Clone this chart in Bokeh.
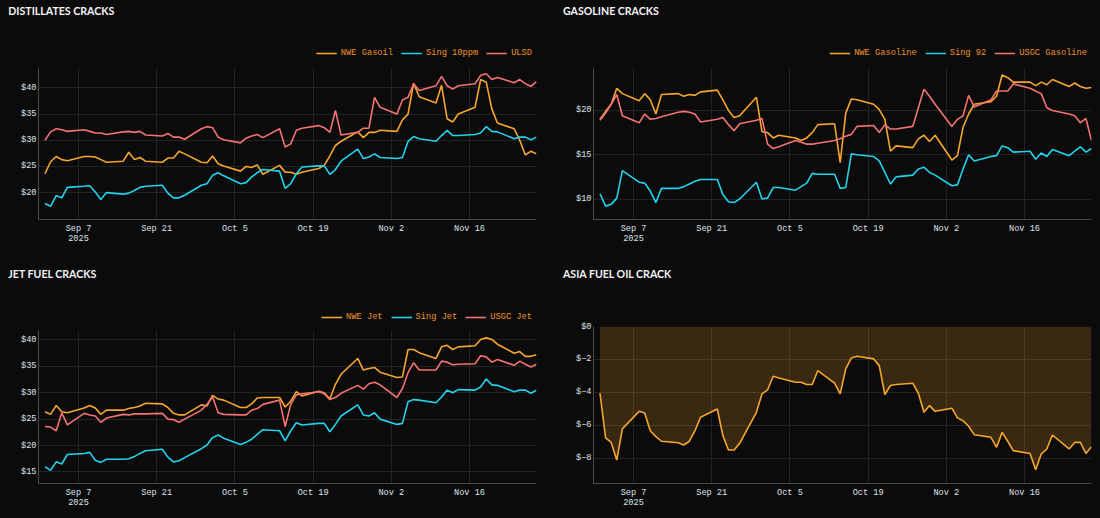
import pandas as pd
from bokeh.plotting import figure
from bokeh.models import Range1d, FixedTicker, Legend, LegendItem, Div
from bokeh.layouts import row, column
from bokeh.embed import file_html
from bokeh.resources import INLINE

# ---------------- data ----------------
dates = pd.bdate_range("2025-09-01", "2025-11-28")

x_tick_dates = ["2025-09-07", "2025-09-21", "2025-10-05", "2025-10-19", "2025-11-02", "2025-11-16"]
x_tick_labels = ["Sep 7\n2025", "Sep 21", "Oct 5", "Oct 19", "Nov 2", "Nov 16"]

nwe_gasoil = [23.6, 25.9, 26.9, 26.3, 26.1, 26.9, 26.9, 26.8, 26.3, 25.8,
              26.0, 27.7, 26.3, 26.7, 26.0, 25.8, 26.6, 26.6, 27.9, 27.4,
              25.8, 25.7, 27.0, 25.5, 25.1, 24.1, 25.0, 24.8, 25.3, 23.5,
              25.2, 23.9, 23.9, 23.5, 23.9, 24.6, 25.2, 27.0, 29.0, 29.8,
              31.6, 30.5, 31.5, 31.5, 31.9, 31.7, 33.9, 35.0, 40.9, 38.3,
              37.1, 40.5, 34.1, 33.5, 35.0, 36.3, 41.6, 41.1, 36.0, 33.3,
              32.2, 30.0, 27.2, 27.9, 27.4]
sing_10ppm = [17.9, 17.4, 19.4, 19.0, 21.0, 21.2, 21.3, 20.1, 18.7, 20.0,
              19.7, 19.9, 20.4, 21.0, 21.2, 21.4, 19.9, 19.0, 19.0, 19.5,
              21.4, 21.7, 23.3, 23.8, 23.2, 21.7, 21.9, 23.0, 23.8, 24.4,
              24.1, 20.8, 21.7, 23.6, 24.9, 25.1, 25.1, 23.5, 24.4, 26.0,
              28.3, 26.5, 26.8, 27.4, 26.7, 26.5, 26.7, 29.8, 30.7, 30.3,
              29.8, 30.9, 31.9, 30.9, 30.9, 31.1, 31.4, 32.6, 31.7, 31.6,
              30.3, 30.6, 30.6, 30.1, 30.6]
ulsd = [30.0, 31.6, 32.2, 32.0, 31.7, 32.0, 31.7, 31.4, 31.4, 31.1,
        31.6, 31.7, 31.5, 31.7, 31.0, 30.8, 31.3, 30.6, 30.6, 30.2,
        32.2, 32.6, 32.4, 30.6, 30.1, 29.5, 30.4, 30.8, 31.1, 30.5,
        32.2, 28.7, 29.3, 31.9, 32.3, 32.8, 32.4, 31.5, 35.7, 31.0,
        31.5, 32.3, 32.3, 38.2, 36.3, 35.0, 37.7, 38.2, 40.8, 39.5,
        40.4, 42.2, 40.4, 39.8, 40.4, 40.8, 42.4, 42.7, 41.6, 42.0,
        41.0, 41.6, 40.8, 40.3, 41.2]

nwe_gasoline = [19.0, 19.9, 20.7, 22.5, 21.9, 21.1, 21.9, 21.2, 19.6, 21.8,
                21.9, 21.6, 21.8, 21.7, 22.1, 22.3, 21.2, 20.0, 19.2, 19.4,
                21.5, 17.6, 17.5, 16.9, 17.2, 16.9, 16.6, 16.9, 17.5, 18.4,
                18.5, 14.1, 19.7, 21.3, 21.2, 20.7, 20.1, 19.0, 15.4, 16.0,
                15.8, 16.8, 17.2, 16.5, 17.2, 14.4, 14.9, 18.1, 19.6, 20.7,
                21.0, 21.6, 24.0, 23.7, 23.2, 23.2, 22.8, 23.2, 22.9, 23.5,
                22.7, 23.1, 22.7, 22.5, 22.6]
sing_92 = [10.6, 9.2, 9.4, 10.1, 13.2, 11.9, 11.8, 10.9, 9.6, 11.2,
           11.2, 11.4, 11.7, 12.0, 12.2, 12.2, 10.5, 9.7, 9.6, 10.0,
           11.9, 10.0, 10.1, 11.3, 11.3, 11.0, 11.4, 11.8, 12.9, 12.8,
           12.8, 11.2, 11.3, 15.1, 15.0, 14.8, 14.3, 13.0, 11.7, 12.5,
           12.7, 13.4, 13.6, 13.0, 12.7, 11.5, 11.6, 13.4, 15.0, 14.3,
           14.8, 14.9, 16.0, 15.8, 15.3, 15.4, 14.5, 15.2, 14.8, 15.6,
           14.9, 15.4, 15.9, 15.3, 15.7]
usgc_gasoline = [18.9, 19.7, 20.7, 21.8, 19.4, 18.6, 19.6, 19.0, 19.1, 19.3,
                 19.8, 19.9, 19.8, 19.6, 18.7, 19.0, 19.2, 18.4, 17.7, 18.5,
                 18.9, 19.1, 16.2, 15.7, 15.9, 16.6, 16.4, 16.2, 16.2, 16.3,
                 16.6, 16.8, 17.1, 17.3, 18.2, 18.3, 17.5, 18.4, 17.9, 17.9,
                 18.2, 20.3, 22.4, 21.6, 20.7, 18.2, 19.0, 19.4, 21.7, 20.4,
                 21.2, 22.2, 22.2, 22.2, 23.0, 22.5, 22.2, 21.9, 20.3, 20.0,
                 19.6, 19.4, 18.6, 19.1, 16.6]

nwe_jet = [26.4, 25.9, 27.6, 26.4, 26.2, 27.1, 27.6, 27.1, 25.9, 26.7,
           26.7, 27.0, 27.2, 27.5, 28.0, 27.9, 27.2, 26.1, 25.8, 25.8,
           27.7, 27.5, 29.5, 28.8, 28.6, 27.2, 27.2, 27.9, 29.0, 29.1,
           29.1, 27.3, 28.4, 30.2, 29.4, 30.3, 30.0, 28.8, 31.6, 33.5,
           36.5, 34.3, 34.6, 34.8, 33.9, 32.9, 33.0, 38.2, 38.2, 37.6,
           36.5, 38.7, 39.0, 38.2, 38.7, 38.9, 40.1, 40.4, 40.1, 39.2,
           37.5, 37.8, 36.9, 36.9, 37.2]
sing_jet = [16.0, 15.3, 16.9, 16.5, 18.3, 18.5, 18.7, 17.2, 16.8, 17.4,
            17.4, 17.5, 17.9, 18.5, 19.0, 19.3, 17.8, 16.9, 17.1, 17.7,
            19.4, 20.1, 21.5, 22.0, 21.4, 20.2, 20.6, 21.2, 22.1, 23.0,
            22.8, 20.9, 22.8, 24.3, 23.9, 24.2, 24.2, 22.6, 24.0, 25.6,
            27.7, 25.8, 25.6, 26.2, 25.0, 24.0, 24.2, 28.3, 28.7, 28.6,
            28.1, 29.2, 30.5, 30.0, 30.6, 30.5, 31.1, 32.6, 31.5, 31.4,
            30.2, 30.5, 30.5, 29.9, 30.5]
usgc_jet = [23.6, 23.5, 22.8, 26.2, 23.9, 26.1, 25.8, 25.6, 24.4, 25.2,
            25.9, 25.8, 26.0, 26.0, 26.0, 26.1, 25.0, 24.9, 24.4, 25.0,
            26.7, 27.8, 29.2, 26.2, 25.9, 25.8, 25.8, 26.7, 27.0, 27.8,
            28.6, 23.6, 27.8, 29.6, 29.8, 30.2, 29.8, 28.7, 29.1, 29.9,
            31.4, 30.7, 31.7, 32.0, 31.5, 29.1, 30.8, 33.8, 35.7, 34.3,
            34.3, 36.0, 35.8, 35.3, 35.4, 35.5, 37.0, 36.8, 35.8, 36.3,
            35.2, 36.0, 35.4, 34.9, 35.4]

asia_fuel_oil = [-4.06, -6.78, -7.05, -8.12, -6.23, -5.16, -5.26, -6.34, -6.70, -6.98,
                 -7.07, -7.21, -6.98, -6.34, -5.52, -5.02, -6.64, -7.51, -7.51, -7.11,
                 -5.22, -4.10, -3.86, -3.03, -3.13, -3.39, -3.39, -3.53, -3.53, -2.68,
                 -3.45, -4.10, -2.58, -1.91, -1.81, -1.97, -2.38, -4.14, -3.59, -3.53,
                 -3.45, -4.06, -5.22, -4.81, -5.16, -4.97, -5.56, -5.73, -6.07, -6.58,
                 -6.74, -7.35, -6.44, -6.98, -7.55, -7.72, -8.71, -7.76, -7.45, -6.60,
                 -7.45, -7.05, -7.05, -7.72, -7.31]

dist_yticks = [20, 25, 30, 35, 40]
dist_ylabels = ["$20", "$25", "$30", "$35", "$40"]
gas_yticks = [10, 15, 20]
gas_ylabels = ["$10", "$15", "$20"]
jet_yticks = [15, 20, 25, 30, 35, 40]
jet_ylabels = ["$15", "$20", "$25", "$30", "$35", "$40"]
fo_yticks = [-8, -6, -4, -2, 0]
fo_ylabels = ["$\u22128", "$\u22126", "$\u22124", "$\u22122", "$0"]

# ---------------- style ----------------
BG = "#0b0b0b"
GRID = "#232323"
AXIS = "#4a4a4a"
TICK_TXT = "#dde3ea"
LEG_TXT = "#f0932b"
ORANGE = "#f7a62d"
CYAN = "#22d3ee"
RED = "#f47272"
MONO = "Liberation Mono"
FS = "8.6px"
COLORS = (ORANGE, CYAN, RED)
TITLE_H = 24


def ms(d):
    return (pd.Timestamp(d) - pd.Timestamp("1970-01-01")) / pd.Timedelta(milliseconds=1)


xs = [ms(d) for d in dates]
X_START = ms("2025-08-30 20:00")
X_END = ms("2025-11-28")
x_ticks = [ms(d) for d in x_tick_dates]


def base(height, mbl, mbr, mbt, mbb, yr, **kw):
    return figure(width=550, height=height, min_border_left=mbl, min_border_right=mbr,
                  min_border_top=mbt, min_border_bottom=mbb,
                  x_range=Range1d(X_START, X_END), y_range=Range1d(*yr),
                  output_backend="svg", toolbar_location=None,
                  background_fill_color=BG, border_fill_color=BG, outline_line_color=None,
                  styles={"background-color": BG}, **kw)


def make_fig(height, mbl, mbr, mbt, mbb, yr, yticks, ylabels):
    p = base(height, mbl, mbr, mbt, mbb, yr)
    p.xaxis.ticker = FixedTicker(ticks=x_ticks, minor_ticks=[])
    p.xaxis.major_label_overrides = dict(zip(x_ticks, x_tick_labels))
    p.yaxis.ticker = FixedTicker(ticks=yticks, minor_ticks=[])
    p.yaxis.major_label_overrides = dict(zip(yticks, ylabels))
    for ax in (p.xaxis, p.yaxis):
        ax.axis_line_color = AXIS
        ax.axis_line_width = 1
        ax.major_tick_line_color = None
        ax.minor_tick_line_color = None
        ax.major_tick_out = 0
        ax.major_tick_in = 0
        ax.minor_tick_out = 0
        ax.major_label_text_font = MONO
        ax.major_label_text_font_size = FS
        ax.major_label_text_color = TICK_TXT
        ax.major_label_text_line_height = 1.05
    p.xaxis.major_label_standoff = 4
    p.yaxis.major_label_standoff = 2
    p.grid.grid_line_color = GRID
    p.grid.grid_line_width = 1
    return p


def title_div(text, pad_left):
    html = ('<div style="font-family: Lato; font-weight: bold; font-size: 10.6px; '
            'line-height: 13px; color: #f4f4f4; padding-top: 5px; padding-left: %spx; '
            'white-space: nowrap;">%s</div>' % (pad_left, text))
    return Div(text=html, width=550, height=TITLE_H, margin=0, styles={"background-color": BG})


def legend_strip(height, mbl, mbr, series, names):
    # legend row above the plot; its lines carry the same series but sit outside the view
    h = base(height, mbl, mbr, 0, 0, (1000, 1001), x_axis_location=None, y_axis_location=None)
    h.grid.visible = False
    items = []
    for ys, n, c in zip(series, names, COLORS):
        r = h.line(xs, ys, line_color=c, line_width=1.6)
        items.append(LegendItem(label=n, renderers=[r]))
    h.add_layout(Legend(items=items, orientation="horizontal", location="bottom_right",
                        background_fill_alpha=0, border_line_alpha=0,
                        label_text_font=MONO, label_text_font_size="8.7px",
                        label_text_color=LEG_TXT,
                        glyph_width=21, glyph_height=10, label_height=10,
                        label_standoff=4, spacing=8, padding=0, margin=4))
    return h


def three_lines(p, series):
    for ys, c in zip(series, COLORS):
        p.line(xs, ys, line_color=c, line_width=1.6)


# top-left
s1 = (nwe_gasoil, sing_10ppm, ulsd)
h1 = legend_strip(38, 38, 14, s1, ("NWE Gasoil", "Sing 10ppm", "ULSD"))
p1 = make_fig(201, 38, 14, 5, 44, (14.86, 43.9), dist_yticks, dist_ylabels)
three_lines(p1, s1)

# top-right
s2 = (nwe_gasoline, sing_92, usgc_gasoline)
h2 = legend_strip(38, 43, 9, s2, ("NWE Gasoline", "Sing 92", "USGC Gasoline"))
p2 = make_fig(201, 43, 9, 5, 44, (7.69, 24.85), gas_yticks, gas_ylabels)
three_lines(p2, s2)

# bottom-left
s3 = (nwe_jet, sing_jet, usgc_jet)
h3 = legend_strip(39, 38, 14, s3, ("NWE Jet", "Sing Jet", "USGC Jet"))
p3 = make_fig(192, 38, 14, 4, 35, (12.8, 41.8), jet_yticks, jet_ylabels)
three_lines(p3, s3)

# bottom-right
p4 = make_fig(231, 43, 9, 39, 35, (-9.55, 0), fo_yticks, fo_ylabels)
p4.varea(x=xs, y1=asia_fuel_oil, y2=0, fill_color=ORANGE, fill_alpha=0.2)
p4.line(xs, asia_fuel_oil, line_color=ORANGE, line_width=1.6)

bgs = {"background-color": BG}
layout = column(
    row(column(title_div("DISTILLATES CRACKS", 8.3), h1, p1, styles=bgs),
        column(title_div("GASOLINE CRACKS", 13), h2, p2, styles=bgs), styles=bgs),
    row(column(title_div("JET FUEL CRACKS", 8.3), h3, p3, styles=bgs),
        column(title_div("ASIA FUEL OIL CRACK", 13), p4, styles=bgs), styles=bgs),
    styles=bgs)
open("out.html", "w").write(file_html(layout, INLINE))
